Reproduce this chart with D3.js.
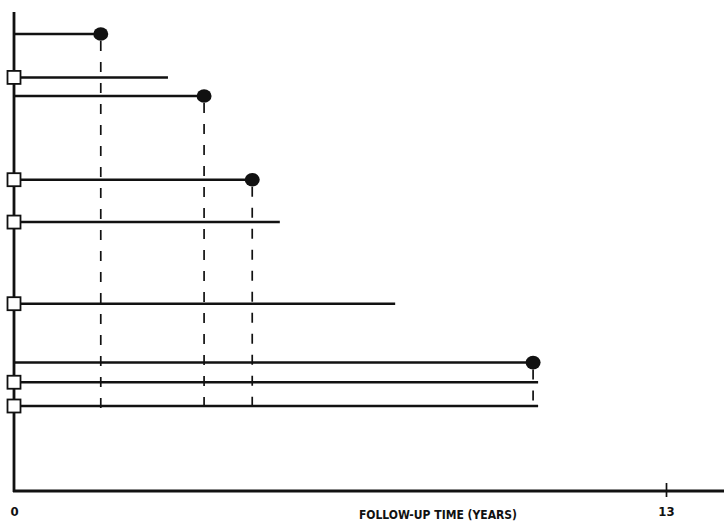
<!DOCTYPE html>
<html>
<head>
<meta charset="utf-8">
<script src="https://cdn.jsdelivr.net/npm/d3@7"></script>
<style>
  body { margin: 0; background: #fff; }
  svg text { font-family: "DejaVu Sans Condensed", "DejaVu Sans", sans-serif; font-weight: bold; fill: #111; }
</style>
</head>
<body>
<div id="chart"></div>
<script>
// one row per subject, top to bottom
var rows      = [0, 2.1, 3, 7.05, 9.1, 13.05, 15.9, 16.85, 18];   // vertical slot of each subject
var endTimes  = [1.73, 3.07, 3.79, 4.75, 5.30, 7.60, 10.35, 10.45, 10.45]; // years followed
var events    = [1, 0, 1, 1, 0, 0, 1, 0, 0];   // 1 = event (filled dot)
var entries   = [0, 1, 0, 1, 1, 1, 0, 1, 1];   // 1 = open square at start
var xTicks    = [0, 13];
var xLabel    = "FOLLOW-UP TIME (YEARS)";

var width = 724, height = 522;

var svg = d3.select("#chart").append("svg")
    .attr("width", width).attr("height", height);

var x = d3.scaleLinear().domain([0, 13]).range([14, 666]);
var y = d3.scaleLinear().domain([0, 18]).range([34, 406]);

var axisY = 491;   // baseline of the time axis
var topY = 12;

var data = rows.map(function(r, i) {
    return {row: r, end: endTimes[i], event: events[i], entry: entries[i]};
});

// dashed drop lines from each event down past the last subject
svg.append("g").selectAll("line")
    .data(data.filter(function(d){ return d.event; }))
    .enter().append("line")
    .attr("x1", function(d){ return x(d.end); })
    .attr("x2", function(d){ return x(d.end); })
    .attr("y1", function(d){ return y(d.row) + 7; })
    .attr("y2", y(18) + 2)
    .attr("stroke", "#111").attr("stroke-width", 1.7)
    .attr("stroke-dasharray", "10,11");

// follow-up lines
svg.append("g").selectAll("line")
    .data(data)
    .enter().append("line")
    .attr("x1", x(0))
    .attr("x2", function(d){ return x(d.end); })
    .attr("y1", function(d){ return y(d.row); })
    .attr("y2", function(d){ return y(d.row); })
    .attr("stroke", "#111").attr("stroke-width", 2.5);

// axes
svg.append("line")
    .attr("x1", x(0)).attr("x2", x(0))
    .attr("y1", topY).attr("y2", axisY + 1)
    .attr("stroke", "#111").attr("stroke-width", 2.8);

var xAxis = svg.append("g")
    .attr("transform", "translate(0," + axisY + ")")
    .call(d3.axisBottom(x).tickValues(xTicks).tickFormat(d3.format("d")).tickSize(6).tickPadding(10));
xAxis.select(".domain").remove();
xAxis.selectAll(".tick line")
    .attr("y1", -8).attr("y2", 6)
    .attr("stroke", "#111").attr("stroke-width", 1.7)
    .style("display", function(d){ return d === 0 ? "none" : null; });
xAxis.selectAll(".tick text")
    .attr("font-size", 13)
    .attr("font-family", null)
    .attr("fill", "#111");

svg.append("line")
    .attr("x1", x(0) - 1).attr("x2", width)
    .attr("y1", axisY).attr("y2", axisY)
    .attr("stroke", "#111").attr("stroke-width", 2.8);

svg.append("text")
    .attr("x", 438).attr("y", 519)
    .attr("text-anchor", "middle")
    .attr("font-size", 12)
    .text(xLabel);

// entry squares
svg.append("g").selectAll("rect")
    .data(data.filter(function(d){ return d.entry; }))
    .enter().append("rect")
    .attr("x", x(0) - 6.5)
    .attr("y", function(d){ return y(d.row) - 6.5; })
    .attr("width", 13).attr("height", 13)
    .attr("fill", "#fff").attr("stroke", "#111").attr("stroke-width", 1.8);

// event dots
svg.append("g").selectAll("ellipse")
    .data(data.filter(function(d){ return d.event; }))
    .enter().append("ellipse")
    .attr("cx", function(d){ return x(d.end); })
    .attr("cy", function(d){ return y(d.row); })
    .attr("rx", 7.5).attr("ry", 6.8)
    .attr("fill", "#111");
</script>
</body>
</html>
